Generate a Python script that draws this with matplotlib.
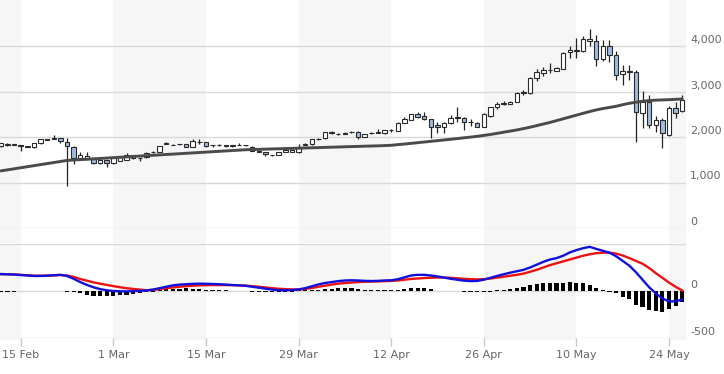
import matplotlib
matplotlib.use("Agg")
import matplotlib.pyplot as plt
import matplotlib.dates as mdates
import numpy as np
import pandas as pd

# ---------------- data ----------------
dates = pd.date_range("2021-02-12", "2021-05-26", freq="D")

opens = [1800, 1820, 1835, 1830, 1780, 1770, 1860, 1945, 1965, 1970, 1900, 1790, 1530, 1525, 1510, 1420, 1490,
         1420, 1480, 1495, 1600, 1535, 1550, 1660, 1665, 1850, 1830, 1845, 1845, 1775, 1885, 1880, 1815, 1822,
         1830, 1795, 1825, 1815, 1790, 1678, 1670, 1598, 1600, 1665, 1665, 1660, 1835, 1840,
         1955, 1970, 2090, 2060, 2060, 2105, 2110, 1995, 2095, 2095, 2080, 2145, 2140, 2315, 2375, 2500, 2460,
         2390, 2265, 2210, 2300, 2420, 2410, 2320, 2315, 2230, 2460, 2650, 2735, 2725,
         2770, 2970, 2960, 3290, 3415, 3465, 3460, 3500, 3860, 3895, 3880, 4110, 4100, 3710, 4000, 3800, 3385,
         3430, 3435, 2535, 2780, 2260, 2375, 2045, 2630, 2570]
closes = [1860, 1850, 1840, 1810, 1795, 1860, 1950, 1955, 1970, 1920, 1800, 1530, 1600, 1590, 1420, 1495, 1420,
          1530, 1560, 1600, 1530, 1530, 1640, 1675, 1800, 1860, 1835, 1840, 1775, 1920, 1895, 1800, 1822, 1828,
          1795, 1830, 1830, 1820, 1690, 1682, 1620, 1602, 1670, 1710, 1710, 1790, 1845, 1950,
          1965, 2100, 2100, 2068, 2095, 2112, 1990, 2060, 2090, 2100, 2150, 2152, 2315, 2390, 2505, 2435, 2390,
          2230, 2210, 2300, 2425, 2430, 2340, 2330, 2230, 2500, 2650, 2725, 2745, 2780,
          2960, 2980, 3290, 3420, 3470, 3475, 3510, 3855, 3910, 3905, 4150, 4150, 3710, 4000, 3800, 3360, 3450,
          3440, 2555, 2780, 2265, 2375, 2080, 2630, 2535, 2815]
highs = [1870, 1875, 1850, 1835, 1800, 1865, 1955, 1965, 2040, 1975, 1975, 1800, 1680, 1660, 1520, 1500, 1500,
         1540, 1575, 1655, 1610, 1540, 1680, 1685, 1810, 1890, 1850, 1850, 1850, 1950, 1950, 1885, 1835, 1840,
         1835, 1835, 1870, 1835, 1800, 1720, 1675, 1610, 1675, 1715, 1715, 1840, 1860, 1955,
         1975, 2110, 2130, 2085, 2100, 2130, 2130, 2075, 2100, 2170, 2155, 2180, 2320, 2440, 2510, 2540, 2545,
         2400, 2330, 2320, 2480, 2650, 2430, 2400, 2330, 2520, 2670, 2760, 2790, 2790,
         2980, 3040, 3320, 3500, 3530, 3620, 3530, 3870, 4000, 4170, 4220, 4365, 4240, 4130, 4130, 3900, 3580,
         3580, 3470, 3010, 2925, 2470, 2410, 2680, 2780, 2920]
lows = [1790, 1800, 1830, 1700, 1770, 1765, 1855, 1930, 1960, 1860, 920, 1400, 1520, 1520, 1410, 1415, 1330,
        1415, 1470, 1490, 1520, 1480, 1540, 1655, 1660, 1840, 1815, 1815, 1770, 1770, 1850, 1770, 1780, 1810,
        1790, 1790, 1822, 1800, 1685, 1675, 1580, 1590, 1595, 1660, 1660, 1655, 1820, 1835,
        1945, 1965, 2060, 2040, 2055, 2090, 1950, 1990, 2065, 2090, 2075, 2120, 2135, 2310, 2370, 2420, 2370,
        1985, 2095, 2080, 2290, 2340, 2150, 2250, 2215, 2220, 2450, 2620, 2700, 2720,
        2765, 2920, 2940, 3240, 3350, 3400, 3450, 3490, 3730, 3730, 3870, 4000, 3550, 3660, 3650, 3250, 3140,
        3250, 1900, 2190, 2200, 2120, 1750, 2030, 2410, 2560]

ma50 = [1255, 1278, 1301, 1324, 1347, 1370, 1393, 1416, 1439, 1462, 1485, 1494, 1503, 1511, 1520, 1529, 1537,
        1546, 1555, 1563, 1572, 1581, 1590, 1598, 1607, 1616, 1624, 1633, 1642, 1650, 1659, 1668, 1677, 1685,
        1694, 1703, 1711, 1720, 1724, 1729, 1733, 1737, 1741, 1746, 1750, 1754, 1759, 1763,
        1767, 1772, 1776, 1780, 1785, 1789, 1793, 1798, 1802, 1806, 1811, 1818, 1832, 1845, 1860, 1875, 1890,
        1905, 1920, 1935, 1950, 1965, 1982, 1998, 2015, 2035, 2055, 2080, 2105, 2130,
        2155, 2185, 2215, 2250, 2285, 2320, 2360, 2400, 2440, 2480, 2520, 2560, 2595, 2625, 2650, 2675, 2710,
        2740, 2765, 2785, 2800, 2810, 2815, 2820, 2828, 2835]

macd = [180, 178, 175, 170, 165, 160, 160, 163, 168, 172, 160, 130, 95, 65, 40, 20, 8,
        0, -3, -4, -2, 2, 5, 15, 30, 45, 60, 68, 72, 76, 78, 77, 75, 72,
        68, 64, 60, 55, 45, 35, 25, 15, 9, 8, 10, 16, 30, 50,
        70, 85, 95, 105, 112, 114, 112, 108, 106, 108, 112, 114, 125, 145, 165, 172, 172,
        165, 155, 143, 130, 120, 110, 105, 107, 120, 140, 160, 178, 195,
        210, 225, 250, 280, 310, 335, 350, 375, 410, 435, 455, 470, 448, 428, 408, 370, 320,
        270, 200, 120, 40, -25, -80, -110, -110, -90]
signal = [180, 178, 176, 172, 168, 163, 162, 163, 166, 170, 165, 150, 128, 110, 92, 78, 65,
          52, 40, 30, 22, 15, 8, 12, 20, 30, 38, 45, 52, 56, 60, 62, 63, 63,
          63, 62, 60, 57, 52, 45, 38, 30, 24, 20, 17, 16, 22, 32,
          45, 57, 68, 78, 85, 90, 95, 98, 100, 102, 105, 107, 112, 120, 128, 133, 138,
          141, 143, 143, 140, 135, 130, 126, 124, 126, 132, 143, 152, 162,
          172, 185, 205, 225, 250, 275, 295, 315, 335, 355, 375, 390, 402, 408, 408, 398, 378,
          350, 320, 290, 245, 190, 140, 90, 45, 5]
hist = [-12, -12, -10, 0, 0, 0, 0, 0, 0, 0, -12, -15, -25, -38, -48, -53, -55,
        -53, -45, -38, -30, -22, -14, -12, 14, 20, 25, 26, 27, 24, 20, 12, 12, 12,
        12, 0, 0, 0, -12, -12, -14, -15, -15, -14, -12, 12, 12, 12,
        14, 18, 24, 28, 30, 30, 25, 14, 12, 12, 12, 12, 14, 22, 30, 32, 28,
        20, 0, 0, 0, 0, -12, -12, -12, -12, -12, 12, 14, 22,
        32, 45, 62, 78, 85, 88, 90, 90, 92, 90, 85, 60, 30, 14, -12, -18, -65,
        -80, -150, -165, -200, -210, -225, -195, -160, -115]

xtick_dates = pd.to_datetime(["2021-02-15", "2021-03-01", "2021-03-15", "2021-03-29",
                              "2021-04-12", "2021-04-26", "2021-05-10", "2021-05-24"])
price_ticks = [0, 1000, 2000, 3000, 4000]
macd_ticks = [-500, 0]

# ---------------- layout ----------------
W, H = 724, 374
fig = plt.figure(figsize=(W / 100, H / 100), dpi=100)


def frame(x0, y0, x1, y1):
    return [x0 / W, 1 - y1 / H, (x1 - x0) / W, (y1 - y0) / H]


x = mdates.date2num(dates)
d15 = mdates.date2num(pd.Timestamp("2021-02-15"))
d24 = mdates.date2num(pd.Timestamp("2021-05-24"))
ppd = (669 - 20.7) / (d24 - d15)
xmin = d15 - 20.7 / ppd
xmax = d24 + (686 - 669) / ppd

grid_c = "#d9d9d9"
band_c = "#f6f6f6"
text_c = "#666666"

# background bands (alternating two-week shading)
ax_bg = fig.add_axes(frame(0, 0, 686, 340))
ax_bg.set_xlim(xmin, xmax)
ax_bg.set_ylim(0, 1)
ax_bg.axis("off")
for b in pd.date_range("2021-02-01", "2021-06-30", freq="28D"):
    b0 = mdates.date2num(b)
    ax_bg.axvspan(b0, b0 + 14, color=band_c, lw=0)

ax1 = fig.add_axes(frame(0, 0, 686, 228))
ax2 = fig.add_axes(frame(0, 244, 686, 338))
for ax in (ax1, ax2):
    ax.set_facecolor("none")
    for s in ax.spines.values():
        s.set_visible(False)
    ax.set_xlim(xmin, xmax)
    ax.tick_params(left=False, right=False, labelleft=False, labelright=False)

# ---------------- price panel ----------------
ax1.set_ylim(0, 228 / 45.5 * 1000)
for v in price_ticks:
    ax1.axhline(v, color=grid_c, lw=1, zorder=0)
    ax1.annotate(f"{v:,}", xy=(1, v), xycoords=("axes fraction", "data"),
                 xytext=(4, 6), textcoords="offset pixels", ha="left", va="center",
                 fontsize=8, color=text_c, annotation_clip=False)

o = np.array(opens, float)
c = np.array(closes, float)
h = np.array(highs, float)
l = np.array(lows, float)
up = c >= o
ax1.vlines(x, l, h, color="#222222", lw=0.9, zorder=2)
ax1.bar(x, np.maximum(np.abs(c - o), 1), bottom=np.minimum(o, c), width=0.68,
        color=np.where(up, "#ffffff", "#9fbbe0"), edgecolor="#2a2a2a", linewidth=0.8, zorder=3)
ax1.plot(x, ma50, color="#4a4a4a", lw=2.1, zorder=4, solid_capstyle="round")
ax1.set_xticks([])

# ---------------- MACD panel ----------------
ax2.set_ylim(-500, 500)
for v in [-500, 0, 500]:
    ax2.axhline(v, color=grid_c, lw=1, zorder=0)
for v in macd_ticks:
    ax2.annotate(f"{v}", xy=(1, v), xycoords=("axes fraction", "data"),
                 xytext=(4, 6), textcoords="offset pixels", ha="left", va="center",
                 fontsize=8, color=text_c, annotation_clip=False)
ax2.bar(x, hist, width=0.62, color="black", lw=0, zorder=2)
ax2.plot(x, signal, color="#ee1111", lw=1.7, zorder=3)
ax2.plot(x, macd, color="#1010dd", lw=1.7, zorder=4)

ax2.set_xticks(mdates.date2num(xtick_dates))
ax2.set_xticklabels([f"{d.day} {d.strftime('%b')}" for d in xtick_dates])
ax2.tick_params(axis="x", length=6, width=1, color="#c8c8c8", pad=3, labelsize=8, labelcolor=text_c)
ax2.tick_params(axis="y", left=False, right=False)

fig.savefig("out.png", dpi=100)
